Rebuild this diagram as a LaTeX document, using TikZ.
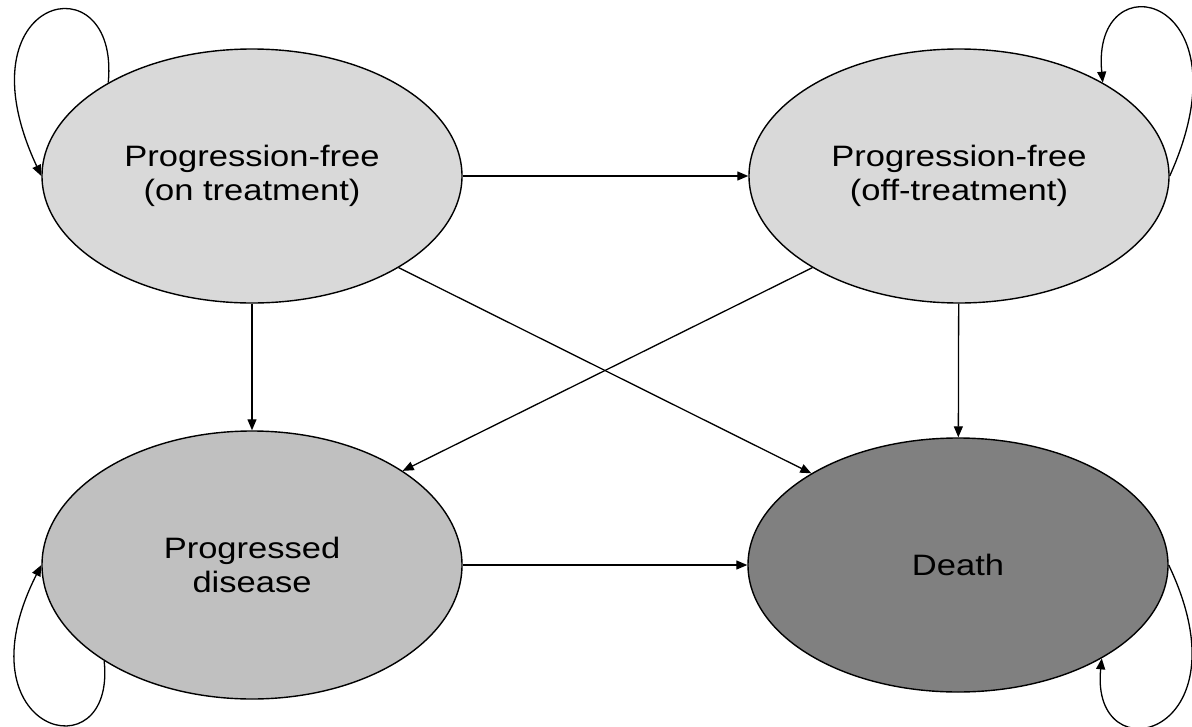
\documentclass[tikz,border=0pt]{standalone}
\usepackage{fontspec}
\setmainfont{Liberation Sans}[FakeStretch=1.17]
\usetikzlibrary{shapes.geometric,arrows.meta}
\definecolor{pfill}{HTML}{D9D9D9}
\definecolor{pdfill}{HTML}{C0C0C0}
\definecolor{dfill}{HTML}{808080}
\begin{document}
\begin{tikzpicture}[x=1pt,y=-1pt,
  state/.style={ellipse,draw,line width=1.4pt,minimum width=420pt,minimum height=254pt,
    inner sep=0pt,align=center,font=\fontsize{29.5}{34.5}\selectfont},
  conn/.style={line width=1.3pt,-{Triangle[length=11pt,width=9pt]}}]
\useasboundingbox (0,0) rectangle (1192,726);
\node[state,fill=pfill] (A) at (252,176) {Progression-free\\(on treatment)};
\node[state,fill=pfill] (B) at (959,176) {Progression-free\\(off-treatment)};
\node[state,fill=pdfill,minimum height=268pt] (C) at (252,565) {Progressed\\disease};
\node[state,fill=dfill] (D) at (958,565) {Death};
\draw[conn] (A) -- (B);
\draw[conn] (A) -- (C);
\draw[conn] (B) -- (D);
\draw[conn] (C) -- (D);
\draw[conn] (A.-32) -- (D.148);
\draw[conn] (B.212) -- (C.32);
\draw[conn] (A.147) .. controls +(12,-125) and +(-85,-182) .. (A.180);
\draw[conn] (B.0) .. controls +(82,-182) and +(-12,-125) .. (B.33);
\draw[conn] (C.213) .. controls +(12,115) and +(-85,168) .. (C.180);
\draw[conn] (D.0) .. controls +(82,172) and +(-12,118) .. (D.327);
\end{tikzpicture}
\end{document}
